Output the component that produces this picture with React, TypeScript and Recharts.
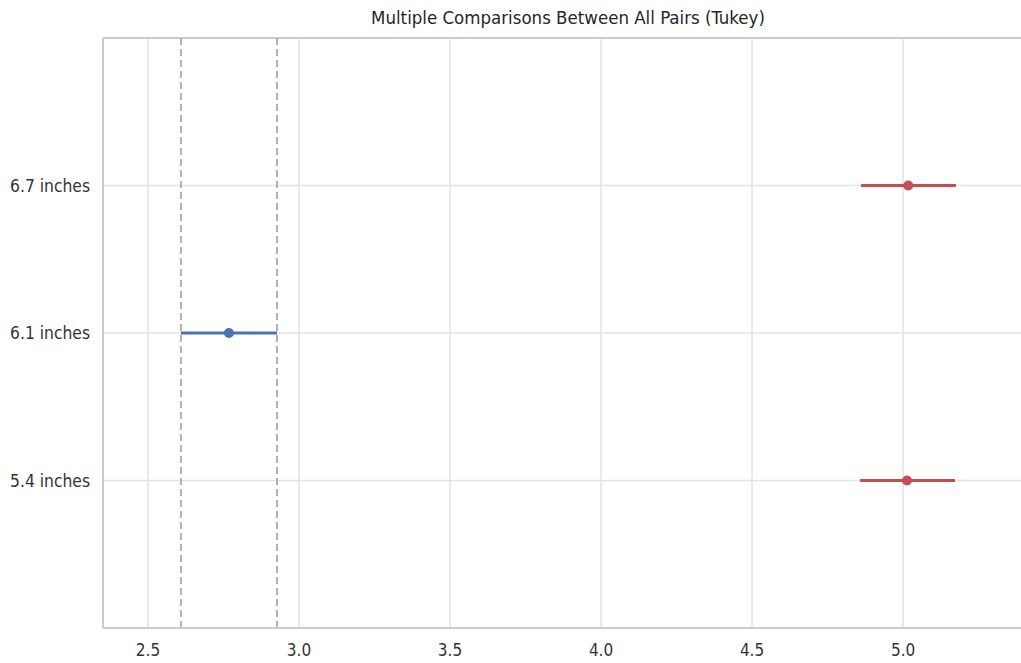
import { ScatterChart, Scatter, XAxis, YAxis, CartesianGrid, ReferenceLine } from 'recharts'

// group labels, bottom to top
const groups = ['5.4 inches', '6.1 inches', '6.7 inches']
const means = [5.013, 2.768, 5.017]
const lowers = [4.858, 2.609, 4.861]
const uppers = [5.172, 2.927, 5.175]
const xTicks = [2.5, 3.0, 3.5, 4.0, 4.5, 5.0]
const colors = ['#c44e52', '#4c72b0', '#c44e52']
const selected = 1

const font = '"DejaVu Sans Condensed", "Liberation Sans Narrow", sans-serif'

export default function App() {
  return (
    <div
      style={{
        position: 'absolute',
        left: 0,
        top: 0,
        width: 1021,
        height: 663,
        overflow: 'hidden',
        background: '#fff',
      }}
    >
      <div
        style={{
          position: 'absolute',
          left: 0,
          width: 1136,
          top: 7,
          textAlign: 'center',
          fontFamily: font,
          fontSize: 18.5,
          color: '#262626',
        }}
      >
        Multiple Comparisons Between All Pairs (Tukey)
      </div>
      <div style={{ position: 'absolute', left: 0, top: 0, width: 1040, height: 663 }}>
        <ScatterChart width={1040} height={663} margin={{ top: 38, right: 1, left: 0, bottom: 0 }}>
          <CartesianGrid stroke="#e3e3e3" strokeWidth={1.5} vertical={false} />
          {xTicks.map((t) => (
            <ReferenceLine key={t} x={t} stroke="#e3e3e3" strokeWidth={1.5} />
          ))}
          <XAxis
            type="number"
            dataKey="x"
            domain={[2.351, 5.45]}
            ticks={xTicks}
            tickFormatter={(v: number) => v.toFixed(1)}
            allowDataOverflow
            height={35}
            stroke="#cccccc"
            strokeWidth={2}
            tickLine={false}
            tickMargin={10}
            tick={{ fill: '#333', fontSize: 17, fontFamily: font }}
          />
          <YAxis
            type="number"
            dataKey="y"
            domain={[-1, 3]}
            ticks={[0, 1, 2]}
            tickFormatter={(v: number) => groups[v]}
            allowDataOverflow
            width={103}
            stroke="#cccccc"
            strokeWidth={2}
            tickLine={false}
            tickMargin={7}
            tick={{ fill: '#333', fontSize: 17.3, fontFamily: font }}
          />
          <ReferenceLine y={3} stroke="#cccccc" strokeWidth={2} />
          <ReferenceLine x={lowers[selected]} stroke="#b0b0b0" strokeWidth={2} strokeDasharray="7 4" />
          <ReferenceLine x={uppers[selected]} stroke="#b0b0b0" strokeWidth={2} strokeDasharray="7 4" />
          {groups.map((g, i) => (
            <Scatter
              key={g}
              data={[
                { x: lowers[i], y: i },
                { x: uppers[i], y: i },
              ]}
              line={{ stroke: colors[i], strokeWidth: 3 }}
              shape={() => <g />}
              isAnimationActive={false}
            />
          ))}
          {groups.map((g, i) => (
            <Scatter
              key={g + '-mean'}
              data={[{ x: means[i], y: i }]}
              fill={colors[i]}
              shape={(p: any) => <circle cx={p.cx} cy={p.cy} r={5} fill={colors[i]} />}
              isAnimationActive={false}
            />
          ))}
        </ScatterChart>
      </div>
    </div>
  )
}
